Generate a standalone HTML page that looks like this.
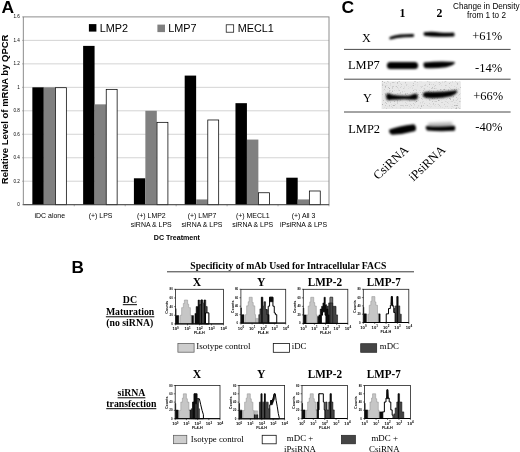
<!DOCTYPE html>
<html><head><meta charset="utf-8"><title>Figure</title>
<style>html,body{margin:0;padding:0;background:#fff}svg{display:block}text{font-family:"Liberation Sans", sans-serif;fill:#000}.s{font-family:"Liberation Serif", serif}</style>
</head><body>
<svg width="520" height="452" viewBox="0 0 520 452">
<defs><filter id="b1" x="-20%" y="-60%" width="140%" height="220%"><feGaussianBlur stdDeviation="0.9"/></filter><filter id="b2" x="-20%" y="-60%" width="140%" height="220%"><feGaussianBlur stdDeviation="0.7"/></filter><filter id="b3" x="-20%" y="-60%" width="140%" height="220%"><feGaussianBlur stdDeviation="1.6"/></filter><filter id="b4" x="-5%" y="-10%" width="110%" height="120%"><feGaussianBlur stdDeviation="0.5"/></filter><filter id="nz" x="0" y="0" width="100%" height="100%"><feTurbulence type="fractalNoise" baseFrequency="0.75" numOctaves="2" seed="7" result="t"/><feColorMatrix type="matrix" values="0 0 0 0 0  0 0 0 0 0  0 0 0 0 0  2.4 0 0 0 -1.38"/></filter></defs>
<rect width="520" height="452" fill="#fff"/>
<g id="panelA">
<text x="1.4" y="13.1" font-size="16.6" font-weight="bold" textLength="12.6" lengthAdjust="spacingAndGlyphs">A</text>
<line x1="22.10" y1="204.70" x2="23.30" y2="204.70" stroke="#666" stroke-width="0.5"/>
<text x="19.9" y="206.10" font-size="4.6" text-anchor="end" fill="#222">0</text>
<line x1="23.30" y1="181.22" x2="329.00" y2="181.22" stroke="#c2c2c2" stroke-width="0.7"/>
<line x1="22.10" y1="181.22" x2="23.30" y2="181.22" stroke="#666" stroke-width="0.5"/>
<text x="19.9" y="182.62" font-size="4.6" text-anchor="end" fill="#222">0.2</text>
<line x1="23.30" y1="157.75" x2="329.00" y2="157.75" stroke="#c2c2c2" stroke-width="0.7"/>
<line x1="22.10" y1="157.75" x2="23.30" y2="157.75" stroke="#666" stroke-width="0.5"/>
<text x="19.9" y="159.15" font-size="4.6" text-anchor="end" fill="#222">0.4</text>
<line x1="23.30" y1="134.27" x2="329.00" y2="134.27" stroke="#c2c2c2" stroke-width="0.7"/>
<line x1="22.10" y1="134.27" x2="23.30" y2="134.27" stroke="#666" stroke-width="0.5"/>
<text x="19.9" y="135.67" font-size="4.6" text-anchor="end" fill="#222">0.6</text>
<line x1="23.30" y1="110.80" x2="329.00" y2="110.80" stroke="#c2c2c2" stroke-width="0.7"/>
<line x1="22.10" y1="110.80" x2="23.30" y2="110.80" stroke="#666" stroke-width="0.5"/>
<text x="19.9" y="112.20" font-size="4.6" text-anchor="end" fill="#222">0.8</text>
<line x1="23.30" y1="87.33" x2="329.00" y2="87.33" stroke="#c2c2c2" stroke-width="0.7"/>
<line x1="22.10" y1="87.33" x2="23.30" y2="87.33" stroke="#666" stroke-width="0.5"/>
<text x="19.9" y="88.73" font-size="4.6" text-anchor="end" fill="#222">1</text>
<line x1="23.30" y1="63.85" x2="329.00" y2="63.85" stroke="#c2c2c2" stroke-width="0.7"/>
<line x1="22.10" y1="63.85" x2="23.30" y2="63.85" stroke="#666" stroke-width="0.5"/>
<text x="19.9" y="65.25" font-size="4.6" text-anchor="end" fill="#222">1.2</text>
<line x1="23.30" y1="40.38" x2="329.00" y2="40.38" stroke="#c2c2c2" stroke-width="0.7"/>
<line x1="22.10" y1="40.38" x2="23.30" y2="40.38" stroke="#666" stroke-width="0.5"/>
<text x="19.9" y="41.77" font-size="4.6" text-anchor="end" fill="#222">1.4</text>
<line x1="22.10" y1="16.90" x2="23.30" y2="16.90" stroke="#666" stroke-width="0.5"/>
<text x="19.9" y="18.30" font-size="4.6" text-anchor="end" fill="#222">1.6</text>
<rect x="23.30" y="16.90" width="305.70" height="187.80" fill="none" stroke="#808080" stroke-width="0.9"/>
<line x1="74.25" y1="204.70" x2="74.25" y2="206.30" stroke="#666" stroke-width="0.5"/>
<rect x="32.35" y="87.33" width="11.45" height="117.37" fill="#000"/>
<rect x="43.80" y="87.33" width="11.45" height="117.37" fill="#808080"/>
<rect x="55.45" y="87.70" width="10.90" height="116.99" fill="#fff" stroke="#000" stroke-width="0.75"/>
<line x1="125.20" y1="204.70" x2="125.20" y2="206.30" stroke="#666" stroke-width="0.5"/>
<rect x="83.13" y="45.89" width="11.45" height="158.81" fill="#000"/>
<rect x="94.58" y="104.34" width="11.45" height="100.36" fill="#808080"/>
<rect x="106.23" y="89.35" width="10.90" height="115.35" fill="#fff" stroke="#000" stroke-width="0.75"/>
<line x1="176.15" y1="204.70" x2="176.15" y2="206.30" stroke="#666" stroke-width="0.5"/>
<rect x="133.91" y="178.29" width="11.45" height="26.41" fill="#000"/>
<rect x="145.36" y="110.80" width="11.45" height="93.90" fill="#808080"/>
<rect x="157.01" y="122.33" width="10.90" height="82.37" fill="#fff" stroke="#000" stroke-width="0.75"/>
<line x1="227.10" y1="204.70" x2="227.10" y2="206.30" stroke="#666" stroke-width="0.5"/>
<rect x="184.69" y="75.59" width="11.45" height="129.11" fill="#000"/>
<rect x="196.14" y="199.42" width="11.45" height="5.28" fill="#808080"/>
<rect x="207.79" y="119.98" width="10.90" height="84.72" fill="#fff" stroke="#000" stroke-width="0.75"/>
<line x1="278.05" y1="204.70" x2="278.05" y2="206.30" stroke="#666" stroke-width="0.5"/>
<rect x="235.47" y="103.17" width="11.45" height="101.53" fill="#000"/>
<rect x="246.92" y="139.56" width="11.45" height="65.14" fill="#808080"/>
<rect x="258.57" y="192.76" width="10.90" height="11.94" fill="#fff" stroke="#000" stroke-width="0.75"/>
<line x1="329.00" y1="204.70" x2="329.00" y2="206.30" stroke="#666" stroke-width="0.5"/>
<rect x="286.25" y="177.70" width="11.45" height="27.00" fill="#000"/>
<rect x="297.70" y="199.42" width="11.45" height="5.28" fill="#808080"/>
<rect x="309.35" y="190.99" width="10.90" height="13.70" fill="#fff" stroke="#000" stroke-width="0.75"/>
<line x1="23.30" y1="204.70" x2="329.00" y2="204.70" stroke="#444" stroke-width="0.9"/>
<rect x="88.9" y="24.1" width="7.5" height="7.5" fill="#000"/>
<text x="99.8" y="32.3" font-size="10.85">LMP2</text>
<rect x="157.4" y="24.6" width="7.6" height="7.5" fill="#808080"/>
<text x="168.2" y="32.3" font-size="10.85">LMP7</text>
<rect x="226.2" y="24.8" width="7.5" height="7.4" fill="#fff" stroke="#000" stroke-width="0.7"/>
<text x="237.7" y="32.3" font-size="10.85">MECL1</text>
<text transform="translate(7.6,184.2) rotate(-90)" font-size="9.5" font-weight="bold" textLength="149.6" lengthAdjust="spacingAndGlyphs">Relative Level of mRNA by QPCR</text>
<text x="49.80" y="218.00" font-size="6.95" text-anchor="middle" fill="#111">iDC alone</text>
<text x="100.55" y="218.00" font-size="6.95" text-anchor="middle" fill="#111">(+) LPS</text>
<text x="151.30" y="218.00" font-size="6.95" text-anchor="middle" fill="#111">(+) LMP2</text>
<text x="151.30" y="226.90" font-size="6.95" text-anchor="middle" fill="#111">siRNA &amp; LPS</text>
<text x="202.05" y="218.00" font-size="6.95" text-anchor="middle" fill="#111">(+) LMP7</text>
<text x="202.05" y="226.90" font-size="6.95" text-anchor="middle" fill="#111">siRNA &amp; LPS</text>
<text x="252.80" y="218.00" font-size="6.95" text-anchor="middle" fill="#111">(+) MECL1</text>
<text x="252.80" y="226.90" font-size="6.95" text-anchor="middle" fill="#111">siRNA &amp; LPS</text>
<text x="303.55" y="218.00" font-size="6.95" text-anchor="middle" fill="#111">(+) All 3</text>
<text x="303.55" y="226.90" font-size="6.95" text-anchor="middle" fill="#111">iPsiRNA &amp; LPS</text>
<text x="176.9" y="239.7" font-size="7.1" font-weight="bold" text-anchor="middle">DC Treatment</text>
</g>
<g id="panelC">
<text x="341.4" y="12.9" font-size="16.6" font-weight="bold" textLength="12.6" lengthAdjust="spacingAndGlyphs">C</text>
<text class="s" x="402.5" y="17.4" font-size="11.8" font-weight="bold" text-anchor="middle">1</text>
<text class="s" x="439.5" y="17.4" font-size="11.8" font-weight="bold" text-anchor="middle">2</text>
<text x="486.3" y="8.9" font-size="8.15" text-anchor="middle" fill="#111">Change in Density</text>
<text x="486.5" y="18.0" font-size="8.15" text-anchor="middle" fill="#111">from 1 to 2</text>
<line x1="344" y1="49.4" x2="510.6" y2="49.4" stroke="#333" stroke-width="0.9"/>
<line x1="344" y1="79.2" x2="510.6" y2="79.2" stroke="#333" stroke-width="0.9"/>
<line x1="344" y1="112.0" x2="510.6" y2="112.0" stroke="#333" stroke-width="0.9"/>
<text class="s" x="366.3" y="41.7" font-size="12.2" text-anchor="middle">X</text>
<text class="s" x="348.0" y="68.7" font-size="12.2" textLength="31.8" lengthAdjust="spacingAndGlyphs">LMP7</text>
<text class="s" x="367.3" y="102" font-size="12.2" text-anchor="middle">Y</text>
<text class="s" x="348.2" y="133.2" font-size="12.2" textLength="31.9" lengthAdjust="spacingAndGlyphs">LMP2</text>
<text class="s" x="502.2" y="39.6" font-size="12.5" text-anchor="end">+61%</text>
<text class="s" x="502.2" y="71.8" font-size="12.5" text-anchor="end">-14%</text>
<text class="s" x="503.2" y="99.9" font-size="12.5" text-anchor="end">+66%</text>
<text class="s" x="502.4" y="130.9" font-size="12.5" text-anchor="end">-40%</text>
<g filter="url(#b1)">
<path d="M389.8,36.9 Q394,35.2 400,34.6 Q408,33.8 413.6,33.9 Q414.8,35.4 413.4,36.9 Q404,37.0 397,38.0 Q392,39.2 390,39.6 Q388.6,38.4 389.8,36.9 Z" fill="#000"/>
<path d="M424,32.2 Q432,31.4 440,32.4 Q448,33.0 453.8,32.4 Q455.4,34.4 453.8,36.4 Q446,36.8 440,36.8 Q432,37.0 424.4,35.8 Q422.8,34 424,32.2 Z" fill="#000"/>
</g>
<g filter="url(#b1)">
<rect x="386.9" y="62.1" width="31.2" height="7.0" rx="3.5" fill="#000"/>
<path d="M424,62.4 Q440,61 455,62.0 Q455.5,64.8 446,67.2 Q434,69 424.8,68.0 Q422.6,65 424,62.4 Z" fill="#000"/>
</g>
<rect x="381.6" y="81.4" width="79.2" height="27.6" fill="#e8e8e8" filter="url(#b4)"/>
<rect x="382" y="81.8" width="78.5" height="26.8" fill="#000" filter="url(#nz)" opacity="0.42"/>
<g filter="url(#b1)">
<path d="M386.6,93.8 Q389,93.0 392,94.8 Q402,96.2 410,95.4 Q414,93.2 417,93.8 Q418.6,96.6 417,99.4 Q412,100.0 404,99.2 Q396,99.6 392,99.8 Q388,100.6 386.6,99.2 Q385.4,96.4 386.6,93.8 Z" fill="#000"/>
<path d="M423.6,92.8 Q426,91.4 432,92.0 Q444,92.0 457,90.2 Q458.4,93 451,96.2 Q440,98.8 428,98.0 Q424,97.6 423.2,96.2 Q422.4,94.4 423.6,92.8 Z" fill="#000"/>
</g>
<g filter="url(#b3)"><path d="M428,123 L452,122 L453,127 L428,127 Z" fill="#777" opacity="0.55"/></g>
<g filter="url(#b1)">
<path d="M389.4,129.4 Q398,126.2 414,124.2 Q417.4,127.4 415.2,131.0 Q404,134.2 392,134.8 Q388.2,132.8 389.4,129.4 Z" fill="#000"/>
<path d="M426,126.0 Q440,127.2 454.6,125.8 Q456.4,128.4 454.6,130.8 Q440,131.8 427,130.6 Q424.8,128.4 426,126.0 Z" fill="#000"/>
</g>
<text class="s" transform="translate(393.6,165.5) rotate(-43.5)" font-size="12.5" text-anchor="middle">CsiRNA</text>
<text class="s" transform="translate(429.8,166.3) rotate(-43.5)" font-size="12.5" text-anchor="middle">iPsiRNA</text>
</g>
<g id="panelB">
<text x="71.4" y="273" font-size="16.6" font-weight="bold" textLength="12.4" lengthAdjust="spacingAndGlyphs">B</text>
<text class="s" x="288.3" y="268.6" font-size="9.4" font-weight="bold" text-anchor="middle" textLength="196" lengthAdjust="spacingAndGlyphs">Specificity of mAb Used for Intracellular FACS</text>
<line x1="167" y1="271.8" x2="414" y2="271.8" stroke="#222" stroke-width="0.9"/>
<text class="s" x="197.1" y="285.9" font-size="11.7" font-weight="bold" text-anchor="middle">X</text>
<text class="s" x="261.3" y="285.9" font-size="11.7" font-weight="bold" text-anchor="middle">Y</text>
<text class="s" x="324.9" y="285.9" font-size="11.7" font-weight="bold" text-anchor="middle" textLength="34.3" lengthAdjust="spacingAndGlyphs">LMP-2</text>
<text class="s" x="383.8" y="285.9" font-size="11.7" font-weight="bold" text-anchor="middle" textLength="33.9" lengthAdjust="spacingAndGlyphs">LMP-7</text>
<text class="s" x="197.1" y="378.3" font-size="11.7" font-weight="bold" text-anchor="middle">X</text>
<text class="s" x="261.3" y="378.3" font-size="11.7" font-weight="bold" text-anchor="middle">Y</text>
<text class="s" x="324.9" y="378.3" font-size="11.7" font-weight="bold" text-anchor="middle" textLength="34.3" lengthAdjust="spacingAndGlyphs">LMP-2</text>
<text class="s" x="383.8" y="378.3" font-size="11.7" font-weight="bold" text-anchor="middle" textLength="33.9" lengthAdjust="spacingAndGlyphs">LMP-7</text>
<g><rect x="175.50" y="289.30" width="48.00" height="34.60" fill="#fff"/>
<polygon points="175.50,323.90 175.50,308.68 176.08,308.68 176.08,315.60 178.76,315.60 178.76,323.90" fill="#0c0c0c" stroke="#000" stroke-width="0.5"/>
<polygon points="191.34,323.90 191.34,315.60 193.50,315.60 193.50,323.90" fill="#0c0c0c" stroke="#000" stroke-width="0.5"/>
<polygon points="194.94,323.90 194.94,313.52 196.14,313.52 196.14,306.60 198.06,306.60 198.06,300.03 199.50,300.03 199.50,304.87 200.94,304.87 200.94,300.03 202.38,300.03 202.38,323.90" fill="#0c0c0c" stroke="#000" stroke-width="0.5"/>
<polygon points="199.50,323.90 199.50,304.87 200.94,304.87 200.94,300.03 202.86,300.03 202.86,303.14 204.30,303.14 204.30,300.03 205.74,300.03 205.74,306.60 207.18,306.60 207.18,313.52 208.62,313.52 208.62,323.90" fill="#444" stroke="#111" stroke-width="0.6"/>
<polygon points="205.50,323.90 205.50,312.83 208.86,312.83 208.86,323.90" fill="#fff" stroke="#000" stroke-width="1.0"/>
<polygon points="201.18,323.90 201.18,300.03 201.76,300.03 201.76,323.90" fill="#0c0c0c" stroke="#000" stroke-width="0.5"/>
<polygon points="204.30,323.90 204.30,300.03 204.88,300.03 204.88,323.90" fill="#0c0c0c" stroke="#000" stroke-width="0.5"/>
<polygon points="180.20,323.90 180.20,315.25 181.64,315.25 181.64,307.64 183.32,307.64 183.32,303.49 184.38,303.49 184.38,300.03 187.64,300.03 187.64,304.18 188.70,304.18 188.70,307.64 190.38,307.64 190.38,315.25 191.24,315.25 191.24,323.90" fill="#c6c6c6" stroke="#8c8c8c" stroke-width="0.5"/>
<rect x="175.50" y="289.30" width="48.00" height="34.60" fill="none" stroke="#222" stroke-width="0.8"/>
<line x1="175.50" y1="323.90" x2="223.50" y2="323.90" stroke="#000" stroke-width="1.0"/>
<line x1="174.10" y1="289.30" x2="175.50" y2="289.30" stroke="#111" stroke-width="0.6"/>
<text x="172.80" y="290.30" font-size="2.9" text-anchor="end" font-weight="bold" fill="#222">80</text>
<line x1="174.10" y1="297.95" x2="175.50" y2="297.95" stroke="#111" stroke-width="0.6"/>
<text x="172.80" y="298.95" font-size="2.9" text-anchor="end" font-weight="bold" fill="#222">60</text>
<line x1="174.10" y1="306.60" x2="175.50" y2="306.60" stroke="#111" stroke-width="0.6"/>
<text x="172.80" y="307.60" font-size="2.9" text-anchor="end" font-weight="bold" fill="#222">40</text>
<line x1="174.10" y1="315.25" x2="175.50" y2="315.25" stroke="#111" stroke-width="0.6"/>
<text x="172.80" y="316.25" font-size="2.9" text-anchor="end" font-weight="bold" fill="#222">20</text>
<line x1="174.10" y1="323.90" x2="175.50" y2="323.90" stroke="#111" stroke-width="0.6"/>
<text x="172.80" y="324.90" font-size="2.9" text-anchor="end" font-weight="bold" fill="#222">0</text>
<text transform="translate(168.10,307.29) rotate(-90)" font-size="3.7" text-anchor="middle" font-weight="bold" fill="#333">Counts</text>
<line x1="175.50" y1="323.90" x2="175.50" y2="325.30" stroke="#111" stroke-width="0.6"/>
<text x="175.60" y="330.30" font-size="4.2" text-anchor="middle" font-weight="bold" fill="#333">10<tspan dy="-1.6" font-size="3.0">0</tspan></text>
<line x1="187.50" y1="323.90" x2="187.50" y2="325.30" stroke="#111" stroke-width="0.6"/>
<text x="187.60" y="330.30" font-size="4.2" text-anchor="middle" font-weight="bold" fill="#333">10<tspan dy="-1.6" font-size="3.0">1</tspan></text>
<line x1="199.50" y1="323.90" x2="199.50" y2="325.30" stroke="#111" stroke-width="0.6"/>
<text x="199.60" y="330.30" font-size="4.2" text-anchor="middle" font-weight="bold" fill="#333">10<tspan dy="-1.6" font-size="3.0">2</tspan></text>
<line x1="211.50" y1="323.90" x2="211.50" y2="325.30" stroke="#111" stroke-width="0.6"/>
<text x="211.60" y="330.30" font-size="4.2" text-anchor="middle" font-weight="bold" fill="#333">10<tspan dy="-1.6" font-size="3.0">3</tspan></text>
<line x1="223.50" y1="323.90" x2="223.50" y2="325.30" stroke="#111" stroke-width="0.6"/>
<text x="223.60" y="330.30" font-size="4.2" text-anchor="middle" font-weight="bold" fill="#333">10<tspan dy="-1.6" font-size="3.0">4</tspan></text>
<text x="199.26" y="334.30" font-size="3.8" text-anchor="middle" font-weight="bold" fill="#222">FL4-H</text></g>
<g><rect x="240.90" y="289.30" width="44.80" height="33.80" fill="#fff"/>
<polygon points="240.90,323.10 240.90,307.89 241.44,307.89 241.44,314.65 243.95,314.65 243.95,323.10" fill="#0c0c0c" stroke="#000" stroke-width="0.5"/>
<polygon points="255.24,323.10 255.24,318.37 258.37,318.37 258.37,323.10" fill="#bdbdbd" stroke="#999" stroke-width="0.4"/>
<polygon points="268.23,323.10 268.23,306.20 269.57,306.20 269.57,297.24 272.93,297.24 272.93,306.20 274.28,306.20 274.28,312.96 275.40,312.96 275.40,314.65 276.74,314.65 276.74,323.10" fill="#fff" stroke="#000" stroke-width="1.0"/>
<polygon points="269.57,301.81 269.57,297.24 272.93,297.24 272.93,301.81" fill="#0c0c0c" stroke="#000" stroke-width="0.5"/>
<polygon points="265.76,323.10 265.76,309.58 267.33,309.58 267.33,314.65 269.12,314.65 269.12,323.10" fill="#0c0c0c" stroke="#000" stroke-width="0.5"/>
<polygon points="258.82,323.10 258.82,314.65 259.94,314.65 259.94,308.90 261.28,308.90 261.28,297.24 262.85,297.24 262.85,306.20 263.97,306.20 263.97,301.81 265.54,301.81 265.54,309.58 266.88,309.58 266.88,314.65 267.78,314.65 267.78,323.10" fill="#444" stroke="#111" stroke-width="0.6"/>
<polygon points="261.64,323.10 261.64,297.24 262.27,297.24 262.27,323.10" fill="#0c0c0c" stroke="#000" stroke-width="0.5"/>
<polygon points="245.29,323.10 245.29,314.65 246.63,314.65 246.63,305.86 248.20,305.86 248.20,301.81 249.19,301.81 249.19,297.24 252.23,297.24 252.23,302.48 253.22,302.48 253.22,305.86 254.79,305.86 254.79,314.65 255.59,314.65 255.59,323.10" fill="#c6c6c6" stroke="#8c8c8c" stroke-width="0.5"/>
<rect x="240.90" y="289.30" width="44.80" height="33.80" fill="none" stroke="#222" stroke-width="0.8"/>
<line x1="240.90" y1="323.10" x2="285.70" y2="323.10" stroke="#000" stroke-width="1.0"/>
<line x1="239.50" y1="289.30" x2="240.90" y2="289.30" stroke="#111" stroke-width="0.6"/>
<text x="238.20" y="290.30" font-size="2.9" text-anchor="end" font-weight="bold" fill="#222">80</text>
<line x1="239.50" y1="297.75" x2="240.90" y2="297.75" stroke="#111" stroke-width="0.6"/>
<text x="238.20" y="298.75" font-size="2.9" text-anchor="end" font-weight="bold" fill="#222">60</text>
<line x1="239.50" y1="306.20" x2="240.90" y2="306.20" stroke="#111" stroke-width="0.6"/>
<text x="238.20" y="307.20" font-size="2.9" text-anchor="end" font-weight="bold" fill="#222">40</text>
<line x1="239.50" y1="314.65" x2="240.90" y2="314.65" stroke="#111" stroke-width="0.6"/>
<text x="238.20" y="315.65" font-size="2.9" text-anchor="end" font-weight="bold" fill="#222">20</text>
<line x1="239.50" y1="323.10" x2="240.90" y2="323.10" stroke="#111" stroke-width="0.6"/>
<text x="238.20" y="324.10" font-size="2.9" text-anchor="end" font-weight="bold" fill="#222">0</text>
<text transform="translate(233.50,306.88) rotate(-90)" font-size="3.7" text-anchor="middle" font-weight="bold" fill="#333">Counts</text>
<line x1="240.90" y1="323.10" x2="240.90" y2="324.50" stroke="#111" stroke-width="0.6"/>
<text x="241.00" y="329.50" font-size="4.2" text-anchor="middle" font-weight="bold" fill="#333">10<tspan dy="-1.6" font-size="3.0">0</tspan></text>
<line x1="252.10" y1="323.10" x2="252.10" y2="324.50" stroke="#111" stroke-width="0.6"/>
<text x="252.20" y="329.50" font-size="4.2" text-anchor="middle" font-weight="bold" fill="#333">10<tspan dy="-1.6" font-size="3.0">1</tspan></text>
<line x1="263.30" y1="323.10" x2="263.30" y2="324.50" stroke="#111" stroke-width="0.6"/>
<text x="263.40" y="329.50" font-size="4.2" text-anchor="middle" font-weight="bold" fill="#333">10<tspan dy="-1.6" font-size="3.0">2</tspan></text>
<line x1="274.50" y1="323.10" x2="274.50" y2="324.50" stroke="#111" stroke-width="0.6"/>
<text x="274.60" y="329.50" font-size="4.2" text-anchor="middle" font-weight="bold" fill="#333">10<tspan dy="-1.6" font-size="3.0">3</tspan></text>
<line x1="285.70" y1="323.10" x2="285.70" y2="324.50" stroke="#111" stroke-width="0.6"/>
<text x="285.80" y="329.50" font-size="4.2" text-anchor="middle" font-weight="bold" fill="#333">10<tspan dy="-1.6" font-size="3.0">4</tspan></text>
<text x="263.08" y="333.50" font-size="3.8" text-anchor="middle" font-weight="bold" fill="#222">FL4-H</text></g>
<g><rect x="303.30" y="289.30" width="44.50" height="34.10" fill="#fff"/>
<polygon points="303.30,323.40 303.30,308.06 303.83,308.06 303.83,314.88 306.33,314.88 306.33,323.40" fill="#0c0c0c" stroke="#000" stroke-width="0.5"/>
<polygon points="317.32,323.40 317.32,316.58 318.88,316.58 318.88,323.40" fill="#0c0c0c" stroke="#000" stroke-width="0.5"/>
<polygon points="326.88,323.40 326.88,306.35 328.67,306.35 328.67,302.94 330.00,302.94 330.00,297.28 332.67,297.28 332.67,306.35 334.00,306.35 334.00,306.35 336.01,306.35 336.01,314.88 337.56,314.88 337.56,323.40" fill="#444" stroke="#111" stroke-width="0.6"/>
<polygon points="330.00,323.40 330.00,297.28 332.67,297.28 332.67,323.40" fill="#777" stroke="#333" stroke-width="0.5"/>
<polygon points="330.00,323.40 330.00,302.94 332.67,302.94 332.67,323.40" fill="#444" stroke="#111" stroke-width="0.6"/>
<polygon points="318.88,323.40 318.88,314.88 320.21,314.88 320.21,309.08 321.55,309.08 321.55,306.35 322.88,306.35 322.88,302.94 323.99,302.94 323.99,297.28 325.33,297.28 325.33,304.65 326.66,304.65 326.66,309.08 328.00,309.08 328.00,314.88 329.11,314.88 329.11,323.40" fill="#0c0c0c" stroke="#000" stroke-width="0.5"/>
<polygon points="321.32,323.23 321.32,315.22 322.44,315.22 322.44,311.81 325.11,311.81 325.11,315.22 326.00,315.22 326.00,323.23" fill="#fff" stroke="#000" stroke-width="1.0"/>
<polygon points="306.86,323.40 306.86,314.88 308.19,314.88 308.19,306.01 309.75,306.01 309.75,301.92 310.73,301.92 310.73,297.28 313.76,297.28 313.76,302.60 314.74,302.60 314.74,306.01 316.29,306.01 316.29,314.88 317.10,314.88 317.10,323.40" fill="#c6c6c6" stroke="#8c8c8c" stroke-width="0.5"/>
<rect x="303.30" y="289.30" width="44.50" height="34.10" fill="none" stroke="#222" stroke-width="0.8"/>
<line x1="303.30" y1="323.40" x2="347.80" y2="323.40" stroke="#000" stroke-width="1.0"/>
<line x1="301.90" y1="289.30" x2="303.30" y2="289.30" stroke="#111" stroke-width="0.6"/>
<text x="300.60" y="290.30" font-size="2.9" text-anchor="end" font-weight="bold" fill="#222">80</text>
<line x1="301.90" y1="297.82" x2="303.30" y2="297.82" stroke="#111" stroke-width="0.6"/>
<text x="300.60" y="298.82" font-size="2.9" text-anchor="end" font-weight="bold" fill="#222">60</text>
<line x1="301.90" y1="306.35" x2="303.30" y2="306.35" stroke="#111" stroke-width="0.6"/>
<text x="300.60" y="307.35" font-size="2.9" text-anchor="end" font-weight="bold" fill="#222">40</text>
<line x1="301.90" y1="314.88" x2="303.30" y2="314.88" stroke="#111" stroke-width="0.6"/>
<text x="300.60" y="315.88" font-size="2.9" text-anchor="end" font-weight="bold" fill="#222">20</text>
<line x1="301.90" y1="323.40" x2="303.30" y2="323.40" stroke="#111" stroke-width="0.6"/>
<text x="300.60" y="324.40" font-size="2.9" text-anchor="end" font-weight="bold" fill="#222">0</text>
<text transform="translate(295.90,307.03) rotate(-90)" font-size="3.7" text-anchor="middle" font-weight="bold" fill="#333">Counts</text>
<line x1="303.30" y1="323.40" x2="303.30" y2="324.80" stroke="#111" stroke-width="0.6"/>
<text x="303.40" y="329.80" font-size="4.2" text-anchor="middle" font-weight="bold" fill="#333">10<tspan dy="-1.6" font-size="3.0">0</tspan></text>
<line x1="314.43" y1="323.40" x2="314.43" y2="324.80" stroke="#111" stroke-width="0.6"/>
<text x="314.53" y="329.80" font-size="4.2" text-anchor="middle" font-weight="bold" fill="#333">10<tspan dy="-1.6" font-size="3.0">1</tspan></text>
<line x1="325.55" y1="323.40" x2="325.55" y2="324.80" stroke="#111" stroke-width="0.6"/>
<text x="325.65" y="329.80" font-size="4.2" text-anchor="middle" font-weight="bold" fill="#333">10<tspan dy="-1.6" font-size="3.0">2</tspan></text>
<line x1="336.68" y1="323.40" x2="336.68" y2="324.80" stroke="#111" stroke-width="0.6"/>
<text x="336.78" y="329.80" font-size="4.2" text-anchor="middle" font-weight="bold" fill="#333">10<tspan dy="-1.6" font-size="3.0">3</tspan></text>
<line x1="347.80" y1="323.40" x2="347.80" y2="324.80" stroke="#111" stroke-width="0.6"/>
<text x="347.90" y="329.80" font-size="4.2" text-anchor="middle" font-weight="bold" fill="#333">10<tspan dy="-1.6" font-size="3.0">4</tspan></text>
<text x="325.33" y="333.80" font-size="3.8" text-anchor="middle" font-weight="bold" fill="#222">FL4-H</text></g>
<g><rect x="363.30" y="289.30" width="45.50" height="33.20" fill="#fff"/>
<polygon points="363.30,322.50 363.30,307.23 363.85,307.23 363.85,313.87 366.39,313.87 366.39,322.50" fill="#0c0c0c" stroke="#000" stroke-width="0.5"/>
<polygon points="378.54,322.50 378.54,313.87 380.13,313.87 380.13,322.50" fill="#0c0c0c" stroke="#000" stroke-width="0.5"/>
<polygon points="392.24,322.50 392.24,314.20 393.60,314.20 393.60,308.56 395.42,308.56 395.42,305.90 396.79,305.90 396.79,296.60 398.15,296.60 398.15,305.90 399.75,305.90 399.75,314.20 401.25,314.20 401.25,322.50" fill="#444" stroke="#111" stroke-width="0.6"/>
<polygon points="397.06,322.50 397.06,296.60 397.70,296.60 397.70,322.50" fill="#0c0c0c" stroke="#000" stroke-width="0.5"/>
<polygon points="386.23,322.50 386.23,313.87 388.51,313.87 388.51,308.56 390.33,308.56 390.33,305.24 391.33,305.24 391.33,296.60 392.33,296.60 392.33,305.90 393.79,305.90 393.79,312.54 395.15,312.54 395.15,322.50" fill="#fff" stroke="#000" stroke-width="1.0"/>
<polygon points="390.83,304.24 391.33,296.60 392.33,296.60 392.88,305.90 391.87,305.90 391.87,304.24" fill="#0c0c0c" stroke="#000" stroke-width="0.5"/>
<polygon points="367.85,322.50 367.85,314.20 369.22,314.20 369.22,305.24 370.81,305.24 370.81,301.25 371.81,301.25 371.81,296.60 374.90,296.60 374.90,301.92 375.90,301.92 375.90,305.24 377.50,305.24 377.50,314.20 378.31,314.20 378.31,322.50" fill="#c6c6c6" stroke="#8c8c8c" stroke-width="0.5"/>
<rect x="363.30" y="289.30" width="45.50" height="33.20" fill="none" stroke="#222" stroke-width="0.8"/>
<line x1="363.30" y1="322.50" x2="408.80" y2="322.50" stroke="#000" stroke-width="1.0"/>
<line x1="361.90" y1="289.30" x2="363.30" y2="289.30" stroke="#111" stroke-width="0.6"/>
<text x="360.60" y="290.30" font-size="2.9" text-anchor="end" font-weight="bold" fill="#222">80</text>
<line x1="361.90" y1="297.60" x2="363.30" y2="297.60" stroke="#111" stroke-width="0.6"/>
<text x="360.60" y="298.60" font-size="2.9" text-anchor="end" font-weight="bold" fill="#222">60</text>
<line x1="361.90" y1="305.90" x2="363.30" y2="305.90" stroke="#111" stroke-width="0.6"/>
<text x="360.60" y="306.90" font-size="2.9" text-anchor="end" font-weight="bold" fill="#222">40</text>
<line x1="361.90" y1="314.20" x2="363.30" y2="314.20" stroke="#111" stroke-width="0.6"/>
<text x="360.60" y="315.20" font-size="2.9" text-anchor="end" font-weight="bold" fill="#222">20</text>
<line x1="361.90" y1="322.50" x2="363.30" y2="322.50" stroke="#111" stroke-width="0.6"/>
<text x="360.60" y="323.50" font-size="2.9" text-anchor="end" font-weight="bold" fill="#222">0</text>
<text transform="translate(355.90,306.56) rotate(-90)" font-size="3.7" text-anchor="middle" font-weight="bold" fill="#333">Counts</text>
<line x1="363.30" y1="322.50" x2="363.30" y2="323.90" stroke="#111" stroke-width="0.6"/>
<text x="363.40" y="328.90" font-size="4.2" text-anchor="middle" font-weight="bold" fill="#333">10<tspan dy="-1.6" font-size="3.0">0</tspan></text>
<line x1="374.68" y1="322.50" x2="374.68" y2="323.90" stroke="#111" stroke-width="0.6"/>
<text x="374.78" y="328.90" font-size="4.2" text-anchor="middle" font-weight="bold" fill="#333">10<tspan dy="-1.6" font-size="3.0">1</tspan></text>
<line x1="386.05" y1="322.50" x2="386.05" y2="323.90" stroke="#111" stroke-width="0.6"/>
<text x="386.15" y="328.90" font-size="4.2" text-anchor="middle" font-weight="bold" fill="#333">10<tspan dy="-1.6" font-size="3.0">2</tspan></text>
<line x1="397.43" y1="322.50" x2="397.43" y2="323.90" stroke="#111" stroke-width="0.6"/>
<text x="397.53" y="328.90" font-size="4.2" text-anchor="middle" font-weight="bold" fill="#333">10<tspan dy="-1.6" font-size="3.0">3</tspan></text>
<line x1="408.80" y1="322.50" x2="408.80" y2="323.90" stroke="#111" stroke-width="0.6"/>
<text x="408.90" y="328.90" font-size="4.2" text-anchor="middle" font-weight="bold" fill="#333">10<tspan dy="-1.6" font-size="3.0">4</tspan></text>
<text x="385.82" y="332.90" font-size="3.8" text-anchor="middle" font-weight="bold" fill="#222">FL4-H</text></g>
<g><rect x="175.20" y="385.50" width="44.80" height="33.20" fill="#fff"/>
<polygon points="175.20,418.70 175.20,403.43 175.74,403.43 175.74,410.07 178.25,410.07 178.25,418.70" fill="#0c0c0c" stroke="#000" stroke-width="0.5"/>
<polygon points="189.09,418.70 189.09,410.07 191.78,410.07 191.78,418.70" fill="#0c0c0c" stroke="#000" stroke-width="0.5"/>
<polygon points="197.15,418.70 197.15,398.78 199.39,398.78 200.74,404.76 202.08,410.40 203.42,414.72 203.42,418.70" fill="#fff" stroke="#000" stroke-width="1.0"/>
<polygon points="191.33,418.70 191.33,408.74 192.67,408.74 192.67,402.10 194.02,402.10 194.02,393.80 197.15,393.80 197.15,398.78 198.50,398.78 198.50,408.74 199.39,408.74 199.39,418.70" fill="#444" stroke="#111" stroke-width="0.6"/>
<polygon points="192.67,418.70 192.67,402.10 194.02,402.10 194.02,393.80 196.70,393.80 196.70,418.70" fill="#0c0c0c" stroke="#000" stroke-width="0.5"/>
<polygon points="194.91,418.70 194.91,403.76 197.15,403.76 197.15,418.70" fill="#444" stroke="#111" stroke-width="0.6"/>
<polygon points="179.46,418.70 179.46,410.40 180.80,410.40 180.80,402.10 182.37,402.10 182.37,398.12 183.35,398.12 183.35,393.80 186.40,393.80 186.40,398.78 187.39,398.78 187.39,402.10 188.95,402.10 188.95,410.40 189.76,410.40 189.76,418.70" fill="#c6c6c6" stroke="#8c8c8c" stroke-width="0.5"/>
<rect x="175.20" y="385.50" width="44.80" height="33.20" fill="none" stroke="#222" stroke-width="0.8"/>
<line x1="175.20" y1="418.70" x2="220.00" y2="418.70" stroke="#000" stroke-width="1.0"/>
<line x1="173.80" y1="385.50" x2="175.20" y2="385.50" stroke="#111" stroke-width="0.6"/>
<text x="172.50" y="386.50" font-size="2.9" text-anchor="end" font-weight="bold" fill="#222">80</text>
<line x1="173.80" y1="393.80" x2="175.20" y2="393.80" stroke="#111" stroke-width="0.6"/>
<text x="172.50" y="394.80" font-size="2.9" text-anchor="end" font-weight="bold" fill="#222">60</text>
<line x1="173.80" y1="402.10" x2="175.20" y2="402.10" stroke="#111" stroke-width="0.6"/>
<text x="172.50" y="403.10" font-size="2.9" text-anchor="end" font-weight="bold" fill="#222">40</text>
<line x1="173.80" y1="410.40" x2="175.20" y2="410.40" stroke="#111" stroke-width="0.6"/>
<text x="172.50" y="411.40" font-size="2.9" text-anchor="end" font-weight="bold" fill="#222">20</text>
<line x1="173.80" y1="418.70" x2="175.20" y2="418.70" stroke="#111" stroke-width="0.6"/>
<text x="172.50" y="419.70" font-size="2.9" text-anchor="end" font-weight="bold" fill="#222">0</text>
<text transform="translate(167.80,402.76) rotate(-90)" font-size="3.7" text-anchor="middle" font-weight="bold" fill="#333">Counts</text>
<line x1="175.20" y1="418.70" x2="175.20" y2="420.10" stroke="#111" stroke-width="0.6"/>
<text x="175.30" y="425.10" font-size="4.2" text-anchor="middle" font-weight="bold" fill="#333">10<tspan dy="-1.6" font-size="3.0">0</tspan></text>
<line x1="186.40" y1="418.70" x2="186.40" y2="420.10" stroke="#111" stroke-width="0.6"/>
<text x="186.50" y="425.10" font-size="4.2" text-anchor="middle" font-weight="bold" fill="#333">10<tspan dy="-1.6" font-size="3.0">1</tspan></text>
<line x1="197.60" y1="418.70" x2="197.60" y2="420.10" stroke="#111" stroke-width="0.6"/>
<text x="197.70" y="425.10" font-size="4.2" text-anchor="middle" font-weight="bold" fill="#333">10<tspan dy="-1.6" font-size="3.0">2</tspan></text>
<line x1="208.80" y1="418.70" x2="208.80" y2="420.10" stroke="#111" stroke-width="0.6"/>
<text x="208.90" y="425.10" font-size="4.2" text-anchor="middle" font-weight="bold" fill="#333">10<tspan dy="-1.6" font-size="3.0">3</tspan></text>
<line x1="220.00" y1="418.70" x2="220.00" y2="420.10" stroke="#111" stroke-width="0.6"/>
<text x="220.10" y="425.10" font-size="4.2" text-anchor="middle" font-weight="bold" fill="#333">10<tspan dy="-1.6" font-size="3.0">4</tspan></text>
<text x="197.38" y="429.10" font-size="3.8" text-anchor="middle" font-weight="bold" fill="#222">FL4-H</text></g>
<g><rect x="239.00" y="385.50" width="45.60" height="33.30" fill="#fff"/>
<polygon points="239.00,418.80 239.00,403.48 239.55,403.48 239.55,410.14 242.10,410.14 242.10,418.80" fill="#0c0c0c" stroke="#000" stroke-width="0.5"/>
<polygon points="254.05,418.80 254.05,410.81 257.70,410.81 257.70,418.80" fill="#bdbdbd" stroke="#999" stroke-width="0.4"/>
<polygon points="254.05,418.80 254.05,414.80 255.42,414.80 255.42,418.80" fill="#0c0c0c" stroke="#000" stroke-width="0.5"/>
<polygon points="256.56,418.80 256.56,414.80 257.70,414.80 257.70,418.80" fill="#0c0c0c" stroke="#000" stroke-width="0.5"/>
<polygon points="269.73,418.80 269.73,404.81 270.69,404.81 270.69,400.49 272.29,400.49 273.20,398.15 274.11,393.82 275.25,393.82 276.16,400.49 277.30,406.81 278.31,413.47 279.31,417.80 279.31,418.80" fill="#fff" stroke="#000" stroke-width="1.0"/>
<polygon points="270.69,404.81 270.69,400.49 272.29,400.49 273.20,398.15 274.11,393.82 274.80,393.82 274.57,398.82 273.20,402.15 272.29,404.81" fill="#0c0c0c" stroke="#000" stroke-width="0.5"/>
<polygon points="259.43,418.80 259.43,402.15 261.02,402.15 261.02,393.82 262.16,393.82 262.16,402.15 264.44,402.15 264.44,393.82 265.45,393.82 265.45,402.15 268.18,402.15 268.18,408.81 269.73,408.81 269.73,418.80" fill="#444" stroke="#111" stroke-width="0.6"/>
<polygon points="261.02,418.80 261.02,393.82 261.57,393.82 261.57,418.80" fill="#0c0c0c" stroke="#000" stroke-width="0.5"/>
<polygon points="264.44,418.80 264.44,393.82 264.99,393.82 264.99,418.80" fill="#0c0c0c" stroke="#000" stroke-width="0.5"/>
<polygon points="243.24,418.80 243.24,410.48 244.61,410.48 244.61,402.15 246.20,402.15 246.20,398.15 247.21,398.15 247.21,393.82 250.31,393.82 250.31,398.82 251.31,398.82 251.31,402.15 252.91,402.15 252.91,410.48 253.73,410.48 253.73,418.80" fill="#c6c6c6" stroke="#8c8c8c" stroke-width="0.5"/>
<rect x="239.00" y="385.50" width="45.60" height="33.30" fill="none" stroke="#222" stroke-width="0.8"/>
<line x1="239.00" y1="418.80" x2="284.60" y2="418.80" stroke="#000" stroke-width="1.0"/>
<line x1="237.60" y1="385.50" x2="239.00" y2="385.50" stroke="#111" stroke-width="0.6"/>
<text x="236.30" y="386.50" font-size="2.9" text-anchor="end" font-weight="bold" fill="#222">80</text>
<line x1="237.60" y1="393.82" x2="239.00" y2="393.82" stroke="#111" stroke-width="0.6"/>
<text x="236.30" y="394.82" font-size="2.9" text-anchor="end" font-weight="bold" fill="#222">60</text>
<line x1="237.60" y1="402.15" x2="239.00" y2="402.15" stroke="#111" stroke-width="0.6"/>
<text x="236.30" y="403.15" font-size="2.9" text-anchor="end" font-weight="bold" fill="#222">40</text>
<line x1="237.60" y1="410.48" x2="239.00" y2="410.48" stroke="#111" stroke-width="0.6"/>
<text x="236.30" y="411.48" font-size="2.9" text-anchor="end" font-weight="bold" fill="#222">20</text>
<line x1="237.60" y1="418.80" x2="239.00" y2="418.80" stroke="#111" stroke-width="0.6"/>
<text x="236.30" y="419.80" font-size="2.9" text-anchor="end" font-weight="bold" fill="#222">0</text>
<text transform="translate(231.60,402.82) rotate(-90)" font-size="3.7" text-anchor="middle" font-weight="bold" fill="#333">Counts</text>
<line x1="239.00" y1="418.80" x2="239.00" y2="420.20" stroke="#111" stroke-width="0.6"/>
<text x="239.10" y="425.20" font-size="4.2" text-anchor="middle" font-weight="bold" fill="#333">10<tspan dy="-1.6" font-size="3.0">0</tspan></text>
<line x1="250.40" y1="418.80" x2="250.40" y2="420.20" stroke="#111" stroke-width="0.6"/>
<text x="250.50" y="425.20" font-size="4.2" text-anchor="middle" font-weight="bold" fill="#333">10<tspan dy="-1.6" font-size="3.0">1</tspan></text>
<line x1="261.80" y1="418.80" x2="261.80" y2="420.20" stroke="#111" stroke-width="0.6"/>
<text x="261.90" y="425.20" font-size="4.2" text-anchor="middle" font-weight="bold" fill="#333">10<tspan dy="-1.6" font-size="3.0">2</tspan></text>
<line x1="273.20" y1="418.80" x2="273.20" y2="420.20" stroke="#111" stroke-width="0.6"/>
<text x="273.30" y="425.20" font-size="4.2" text-anchor="middle" font-weight="bold" fill="#333">10<tspan dy="-1.6" font-size="3.0">3</tspan></text>
<line x1="284.60" y1="418.80" x2="284.60" y2="420.20" stroke="#111" stroke-width="0.6"/>
<text x="284.70" y="425.20" font-size="4.2" text-anchor="middle" font-weight="bold" fill="#333">10<tspan dy="-1.6" font-size="3.0">4</tspan></text>
<text x="261.57" y="429.20" font-size="3.8" text-anchor="middle" font-weight="bold" fill="#222">FL4-H</text></g>
<g><rect x="302.00" y="385.50" width="45.40" height="33.00" fill="#fff"/>
<polygon points="302.00,418.50 302.00,403.32 302.54,403.32 302.54,409.92 305.09,409.92 305.09,418.50" fill="#0c0c0c" stroke="#000" stroke-width="0.5"/>
<polygon points="316.07,418.50 316.07,409.92 317.89,409.92 317.89,418.50" fill="#0c0c0c" stroke="#000" stroke-width="0.5"/>
<polygon points="322.88,418.50 322.88,409.92 325.61,409.92 325.61,402.00 326.97,402.00 326.97,409.92 328.79,409.92 328.79,402.00 330.15,402.00 330.15,393.75 331.51,393.75 331.51,402.00 332.87,402.00 332.87,409.92 334.23,409.92 334.23,418.50" fill="#444" stroke="#111" stroke-width="0.6"/>
<polygon points="317.21,418.50 317.21,402.00 318.57,402.00 318.57,393.75 319.93,393.75 319.93,418.50" fill="#0c0c0c" stroke="#000" stroke-width="0.5"/>
<polygon points="318.34,418.50 318.34,409.92 319.02,409.92 319.02,393.75 323.34,393.75 323.34,402.00 324.25,402.00 324.25,409.92 324.93,409.92 324.93,418.50" fill="#fff" stroke="#000" stroke-width="1.0"/>
<polygon points="330.15,418.50 330.15,393.75 330.78,393.75 330.78,418.50" fill="#0c0c0c" stroke="#000" stroke-width="0.5"/>
<polygon points="306.27,418.50 306.27,410.25 307.63,410.25 307.63,402.00 309.22,402.00 309.22,398.04 310.22,398.04 310.22,393.75 313.30,393.75 313.30,398.70 314.30,398.70 314.30,402.00 315.89,402.00 315.89,410.25 316.71,410.25 316.71,418.50" fill="#c6c6c6" stroke="#8c8c8c" stroke-width="0.5"/>
<rect x="302.00" y="385.50" width="45.40" height="33.00" fill="none" stroke="#222" stroke-width="0.8"/>
<line x1="302.00" y1="418.50" x2="347.40" y2="418.50" stroke="#000" stroke-width="1.0"/>
<line x1="300.60" y1="385.50" x2="302.00" y2="385.50" stroke="#111" stroke-width="0.6"/>
<text x="299.30" y="386.50" font-size="2.9" text-anchor="end" font-weight="bold" fill="#222">80</text>
<line x1="300.60" y1="393.75" x2="302.00" y2="393.75" stroke="#111" stroke-width="0.6"/>
<text x="299.30" y="394.75" font-size="2.9" text-anchor="end" font-weight="bold" fill="#222">60</text>
<line x1="300.60" y1="402.00" x2="302.00" y2="402.00" stroke="#111" stroke-width="0.6"/>
<text x="299.30" y="403.00" font-size="2.9" text-anchor="end" font-weight="bold" fill="#222">40</text>
<line x1="300.60" y1="410.25" x2="302.00" y2="410.25" stroke="#111" stroke-width="0.6"/>
<text x="299.30" y="411.25" font-size="2.9" text-anchor="end" font-weight="bold" fill="#222">20</text>
<line x1="300.60" y1="418.50" x2="302.00" y2="418.50" stroke="#111" stroke-width="0.6"/>
<text x="299.30" y="419.50" font-size="2.9" text-anchor="end" font-weight="bold" fill="#222">0</text>
<text transform="translate(294.60,402.66) rotate(-90)" font-size="3.7" text-anchor="middle" font-weight="bold" fill="#333">Counts</text>
<line x1="302.00" y1="418.50" x2="302.00" y2="419.90" stroke="#111" stroke-width="0.6"/>
<text x="302.10" y="424.90" font-size="4.2" text-anchor="middle" font-weight="bold" fill="#333">10<tspan dy="-1.6" font-size="3.0">0</tspan></text>
<line x1="313.35" y1="418.50" x2="313.35" y2="419.90" stroke="#111" stroke-width="0.6"/>
<text x="313.45" y="424.90" font-size="4.2" text-anchor="middle" font-weight="bold" fill="#333">10<tspan dy="-1.6" font-size="3.0">1</tspan></text>
<line x1="324.70" y1="418.50" x2="324.70" y2="419.90" stroke="#111" stroke-width="0.6"/>
<text x="324.80" y="424.90" font-size="4.2" text-anchor="middle" font-weight="bold" fill="#333">10<tspan dy="-1.6" font-size="3.0">2</tspan></text>
<line x1="336.05" y1="418.50" x2="336.05" y2="419.90" stroke="#111" stroke-width="0.6"/>
<text x="336.15" y="424.90" font-size="4.2" text-anchor="middle" font-weight="bold" fill="#333">10<tspan dy="-1.6" font-size="3.0">3</tspan></text>
<line x1="347.40" y1="418.50" x2="347.40" y2="419.90" stroke="#111" stroke-width="0.6"/>
<text x="347.50" y="424.90" font-size="4.2" text-anchor="middle" font-weight="bold" fill="#333">10<tspan dy="-1.6" font-size="3.0">4</tspan></text>
<text x="324.47" y="428.90" font-size="3.8" text-anchor="middle" font-weight="bold" fill="#222">FL4-H</text></g>
<g><rect x="364.60" y="385.50" width="45.80" height="33.00" fill="#fff"/>
<polygon points="364.60,418.50 364.60,403.32 365.15,403.32 365.15,409.92 367.71,409.92 367.71,418.50" fill="#0c0c0c" stroke="#000" stroke-width="0.5"/>
<polygon points="379.26,418.50 379.26,411.90 382.92,411.90 382.92,418.50" fill="#0c0c0c" stroke="#000" stroke-width="0.5"/>
<polygon points="393.82,418.50 393.82,413.88 395.19,413.88 395.19,407.94 396.80,407.94 396.80,402.00 398.17,402.00 398.17,393.75 399.55,393.75 399.55,402.00 401.84,402.00 401.84,411.90 403.76,411.90 403.76,418.50" fill="#444" stroke="#111" stroke-width="0.6"/>
<polygon points="398.17,418.50 398.17,393.75 398.72,393.75 398.72,418.50" fill="#0c0c0c" stroke="#000" stroke-width="0.5"/>
<polygon points="382.78,418.50 382.78,411.90 384.39,411.90 384.39,402.00 385.99,402.00 385.99,398.04 386.90,398.04 386.90,389.79 387.82,389.79 387.82,398.04 389.19,398.04 389.19,402.00 390.80,402.00 390.80,409.92 392.17,409.92 392.17,415.20 393.09,415.20 393.09,418.50" fill="#fff" stroke="#000" stroke-width="1.0"/>
<polygon points="386.49,398.70 386.95,389.79 387.91,389.79 388.51,398.70" fill="#0c0c0c" stroke="#000" stroke-width="0.5"/>
<polygon points="368.58,418.50 368.58,410.25 369.96,410.25 369.96,402.00 371.56,402.00 371.56,398.04 372.57,398.04 372.57,393.75 375.68,393.75 375.68,398.70 376.69,398.70 376.69,402.00 378.29,402.00 378.29,410.25 379.12,410.25 379.12,418.50" fill="#c6c6c6" stroke="#8c8c8c" stroke-width="0.5"/>
<rect x="364.60" y="385.50" width="45.80" height="33.00" fill="none" stroke="#222" stroke-width="0.8"/>
<line x1="364.60" y1="418.50" x2="410.40" y2="418.50" stroke="#000" stroke-width="1.0"/>
<line x1="363.20" y1="385.50" x2="364.60" y2="385.50" stroke="#111" stroke-width="0.6"/>
<text x="361.90" y="386.50" font-size="2.9" text-anchor="end" font-weight="bold" fill="#222">80</text>
<line x1="363.20" y1="393.75" x2="364.60" y2="393.75" stroke="#111" stroke-width="0.6"/>
<text x="361.90" y="394.75" font-size="2.9" text-anchor="end" font-weight="bold" fill="#222">60</text>
<line x1="363.20" y1="402.00" x2="364.60" y2="402.00" stroke="#111" stroke-width="0.6"/>
<text x="361.90" y="403.00" font-size="2.9" text-anchor="end" font-weight="bold" fill="#222">40</text>
<line x1="363.20" y1="410.25" x2="364.60" y2="410.25" stroke="#111" stroke-width="0.6"/>
<text x="361.90" y="411.25" font-size="2.9" text-anchor="end" font-weight="bold" fill="#222">20</text>
<line x1="363.20" y1="418.50" x2="364.60" y2="418.50" stroke="#111" stroke-width="0.6"/>
<text x="361.90" y="419.50" font-size="2.9" text-anchor="end" font-weight="bold" fill="#222">0</text>
<text transform="translate(357.20,402.66) rotate(-90)" font-size="3.7" text-anchor="middle" font-weight="bold" fill="#333">Counts</text>
<line x1="364.60" y1="418.50" x2="364.60" y2="419.90" stroke="#111" stroke-width="0.6"/>
<text x="364.70" y="424.90" font-size="4.2" text-anchor="middle" font-weight="bold" fill="#333">10<tspan dy="-1.6" font-size="3.0">0</tspan></text>
<line x1="376.05" y1="418.50" x2="376.05" y2="419.90" stroke="#111" stroke-width="0.6"/>
<text x="376.15" y="424.90" font-size="4.2" text-anchor="middle" font-weight="bold" fill="#333">10<tspan dy="-1.6" font-size="3.0">1</tspan></text>
<line x1="387.50" y1="418.50" x2="387.50" y2="419.90" stroke="#111" stroke-width="0.6"/>
<text x="387.60" y="424.90" font-size="4.2" text-anchor="middle" font-weight="bold" fill="#333">10<tspan dy="-1.6" font-size="3.0">2</tspan></text>
<line x1="398.95" y1="418.50" x2="398.95" y2="419.90" stroke="#111" stroke-width="0.6"/>
<text x="399.05" y="424.90" font-size="4.2" text-anchor="middle" font-weight="bold" fill="#333">10<tspan dy="-1.6" font-size="3.0">3</tspan></text>
<line x1="410.40" y1="418.50" x2="410.40" y2="419.90" stroke="#111" stroke-width="0.6"/>
<text x="410.50" y="424.90" font-size="4.2" text-anchor="middle" font-weight="bold" fill="#333">10<tspan dy="-1.6" font-size="3.0">4</tspan></text>
<text x="387.27" y="428.90" font-size="3.8" text-anchor="middle" font-weight="bold" fill="#222">FL4-H</text></g>
<text class="s" x="129.9" y="303.2" font-size="9.8" font-weight="bold" text-anchor="middle" text-decoration="underline">DC</text>
<text class="s" x="130.1" y="315.3" font-size="9.8" font-weight="bold" text-anchor="middle" text-decoration="underline">Maturation</text>
<text class="s" x="129.8" y="326.4" font-size="9.8" font-weight="bold" text-anchor="middle">(no siRNA)</text>
<text class="s" x="131.5" y="396.3" font-size="9.8" font-weight="bold" text-anchor="middle" text-decoration="underline">siRNA</text>
<text class="s" x="131.3" y="407.2" font-size="9.8" font-weight="bold" text-anchor="middle" text-decoration="underline">transfection</text>
<rect x="177.9" y="343.4" width="16.2" height="8.8" fill="#cdcdcd" stroke="#555" stroke-width="0.7"/>
<text class="s" x="196.3" y="349.0" font-size="9.0">Isotype control</text>
<rect x="273.3" y="343.5" width="16.2" height="8.8" fill="#fff" stroke="#111" stroke-width="0.8"/>
<text class="s" x="291.7" y="349.0" font-size="8.8">iDC</text>
<rect x="360.7" y="343.7" width="16.0" height="8.6" fill="#454545" stroke="#222" stroke-width="0.7"/>
<text class="s" x="379.8" y="349.0" font-size="8.8">mDC</text>
<rect x="173.6" y="435.3" width="13.2" height="8.4" fill="#cdcdcd" stroke="#555" stroke-width="0.7"/>
<text class="s" x="190.8" y="441.6" font-size="8.8">Isotype control</text>
<rect x="262.2" y="435.3" width="14" height="8.5" fill="#fff" stroke="#111" stroke-width="0.8"/>
<text class="s" x="300.1" y="441.2" font-size="8.9" text-anchor="middle">mDC +</text>
<text class="s" x="300" y="451.8" font-size="8.9" text-anchor="middle">iPsiRNA</text>
<rect x="341.4" y="435.3" width="14" height="8.5" fill="#454545" stroke="#222" stroke-width="0.7"/>
<text class="s" x="384.7" y="441.2" font-size="8.9" text-anchor="middle">mDC +</text>
<text class="s" x="384.4" y="451.8" font-size="8.9" text-anchor="middle">CsiRNA</text>
</g>
</svg>
</body></html>
